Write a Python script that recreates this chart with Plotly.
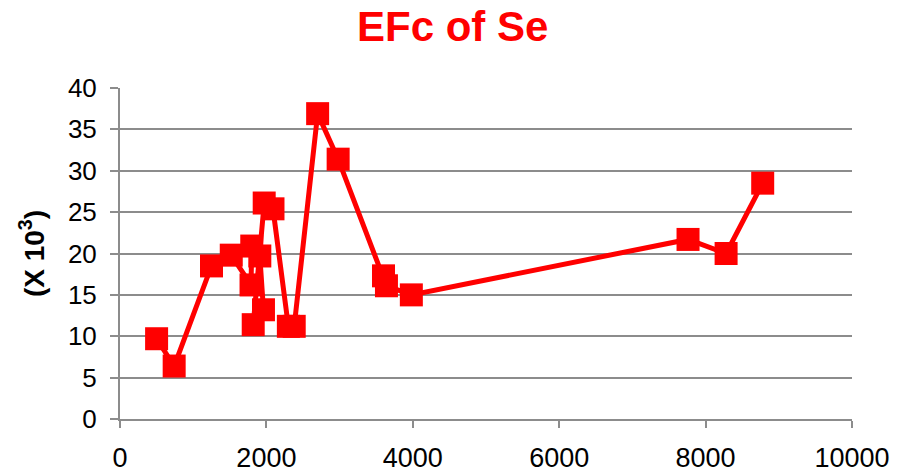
import plotly.graph_objects as go

# Sample distance and EFc values (x 10^3), in sampling order
distance = [500, 740, 1250, 1520, 1790, 1800, 1910, 1960, 1820, 1970, 2090,
            2300, 2380, 2700, 2980, 3600, 3640, 3980, 7760, 8280, 8780]
efc = [9.7, 6.4, 18.5, 19.8, 16.2, 20.9, 19.7, 13.2, 11.4, 26.1, 25.4,
       11.2, 11.2, 36.9, 31.4, 17.3, 16.1, 15.0, 21.7, 20.0, 28.5]

x_ticks = [0, 2000, 4000, 6000, 8000, 10000]
y_ticks = [0, 5, 10, 15, 20, 25, 30, 35, 40]

RED = "#FF0000"
GRID = "#8C8C8C"
FONT = "Liberation Sans, Arial, sans-serif"

fig = go.Figure(
    go.Scatter(
        x=distance,
        y=efc,
        mode="lines+markers",
        line=dict(color=RED, width=5),
        marker=dict(symbol="square", size=23, color=RED, line=dict(width=0)),
        showlegend=False,
    )
)

fig.update_layout(
    width=900,
    height=472,
    margin=dict(l=120, r=48, t=88, b=53),
    paper_bgcolor="white",
    plot_bgcolor="white",
    font=dict(family=FONT, color="black"),
    title=dict(
        text="<b>EFc of Se</b>",
        font=dict(family=FONT, size=42, color=RED),
        x=0.503,
        xanchor="center",
        y=0.945,
        yanchor="middle",
        yref="container",
    ),
    xaxis=dict(
        range=[0, 10000],
        tickvals=x_ticks,
        ticktext=[str(v) for v in x_ticks],
        showgrid=False,
        zeroline=False,
        showline=True,
        linecolor=GRID,
        linewidth=2,
        ticks="outside",
        ticklen=7,
        tickwidth=2,
        tickcolor=GRID,
        tickfont=dict(size=27, color="black"),
        ticklabelstandoff=7,
        automargin=False,
    ),
    yaxis=dict(
        range=[0, 40],
        tickvals=y_ticks,
        ticktext=[str(v) for v in y_ticks],
        showgrid=True,
        gridcolor=GRID,
        gridwidth=2,
        zeroline=False,
        showline=True,
        linecolor=GRID,
        linewidth=2,
        ticks="outside",
        ticklen=8,
        tickwidth=2,
        tickcolor=GRID,
        tickfont=dict(size=26, color="black"),
        ticklabelstandoff=8,
        automargin=False,
        title=dict(
            text="<b>(X 10<sup>3</sup>)</b>",
            font=dict(family=FONT, size=28, color="black"),
            standoff=15,
        ),
    ),
)

fig.write_html("out.html")
